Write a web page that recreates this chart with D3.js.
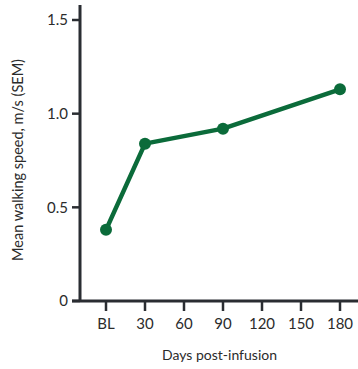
<!DOCTYPE html>
<html>
<head>
<meta charset="utf-8">
<script src="https://d3js.org/d3.v7.min.js"></script>
<style>
  body { margin: 0; background: #fff; }
  text { font-family: Lato, "Open Sans", sans-serif; fill: #2b2b2b; }
</style>
</head>
<body>
<div id="chart"></div>
<script>
// data
var days = [0, 30, 90, 180];
var speeds = [0.38, 0.84, 0.92, 1.13];
var xTicks = [0, 30, 60, 90, 120, 150, 180];
var xTickLabels = ["BL", "30", "60", "90", "120", "150", "180"];
var yTicks = [0, 0.5, 1.0, 1.5];
var yTickLabels = ["0", "0.5", "1.0", "1.5"];

var W = 358, H = 369;
var svg = d3.select("#chart").append("svg").attr("width", W).attr("height", H);

var x = d3.scaleLinear().domain([0, 180]).range([106, 340]);
var y = d3.scaleLinear().domain([0, 1.5]).range([301, 20]);

var axisColor = "#2a2d32";
var green = "#0b6b3a";

// y axis
var yAxis = svg.append("g").attr("transform", "translate(80,0)");
yAxis.append("line").attr("x1", 0).attr("x2", 0).attr("y1", 5).attr("y2", 302)
  .attr("stroke", axisColor).attr("stroke-width", 3);
yAxis.selectAll(".yt").data(yTicks).enter().append("line")
  .attr("x1", -8).attr("x2", 0)
  .attr("y1", function(d) { return y(d); }).attr("y2", function(d) { return y(d); })
  .attr("stroke", axisColor).attr("stroke-width", 2.5);
yAxis.selectAll(".yl").data(yTicks).enter().append("text")
  .attr("x", -12).attr("y", function(d) { return y(d); })
  .attr("dy", "0.35em").attr("text-anchor", "end").attr("font-size", 15)
  .text(function(d, i) { return yTickLabels[i]; });

// x axis
var xAxis = svg.append("g").attr("transform", "translate(0,301)");
xAxis.append("line").attr("x1", 72).attr("x2", 358).attr("y1", 0).attr("y2", 0)
  .attr("stroke", axisColor).attr("stroke-width", 3);
xAxis.selectAll(".xt").data(xTicks).enter().append("line")
  .attr("x1", function(d) { return x(d); }).attr("x2", function(d) { return x(d); })
  .attr("y1", 0).attr("y2", 10)
  .attr("stroke", axisColor).attr("stroke-width", 2.5);
xAxis.selectAll(".xl").data(xTicks).enter().append("text")
  .attr("x", function(d) { return x(d); }).attr("y", 23)
  .attr("dy", "0.35em").attr("text-anchor", "middle").attr("font-size", 15)
  .text(function(d, i) { return xTickLabels[i]; });

// axis titles
svg.append("text").attr("x", 219.5).attr("y", 355).attr("dy", "0.35em")
  .attr("text-anchor", "middle").attr("font-size", 14)
  .text("Days post-infusion");
svg.append("text")
  .attr("transform", "translate(18,160) rotate(-90)")
  .attr("dy", "0.35em").attr("text-anchor", "middle").attr("font-size", 14.5)
  .text("Mean walking speed, m/s (SEM)");

// series
var pts = days.map(function(d, i) { return [d, speeds[i]]; });
var line = d3.line().x(function(d) { return x(d[0]); }).y(function(d) { return y(d[1]); });
svg.append("path").datum(pts).attr("d", line)
  .attr("fill", "none").attr("stroke", green).attr("stroke-width", 4.5)
  .attr("stroke-linejoin", "round");
svg.selectAll(".pt").data(pts).enter().append("circle")
  .attr("cx", function(d) { return x(d[0]); }).attr("cy", function(d) { return y(d[1]); })
  .attr("r", 6).attr("fill", green);
</script>
</body>
</html>
